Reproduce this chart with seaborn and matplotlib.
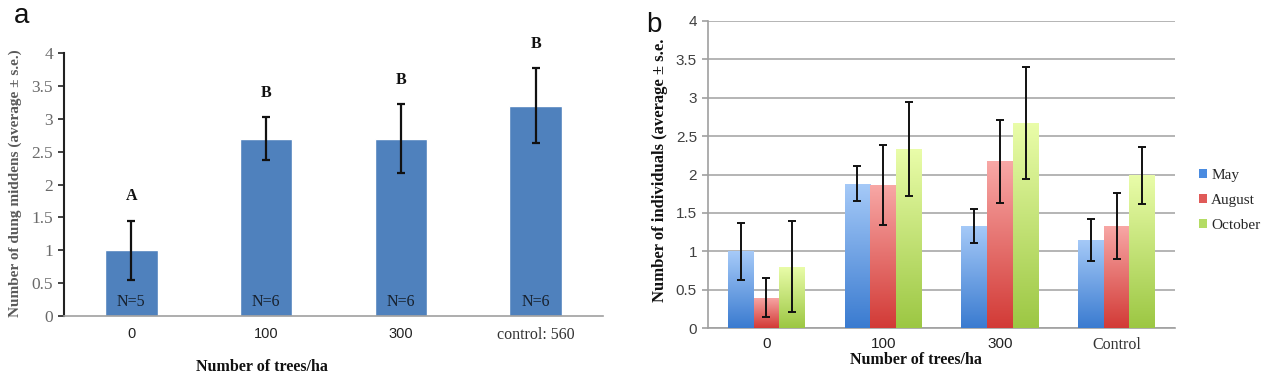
import numpy as np
import pandas as pd
import matplotlib
matplotlib.use("Agg")
import matplotlib.pyplot as plt
import seaborn as sns
from matplotlib.colors import LinearSegmentedColormap
from matplotlib.patches import Patch

# ---------------- data ----------------
a_categories = ["0", "100", "300", "control: 560"]
a_means = [1.0, 2.7, 2.7, 3.2]
a_se = [0.45, 0.33, 0.53, 0.57]
a_letters = ["A", "B", "B", "B"]
a_n_labels = ["N=5", "N=6", "N=6", "N=6"]

b_categories = ["0", "100", "300", "Control"]
b_months = ["May", "August", "October"]
b_may = [1.0, 1.88, 1.33, 1.15]
b_may_se = [0.37, 0.23, 0.22, 0.27]
b_august = [0.40, 1.86, 2.17, 1.33]
b_august_se = [0.25, 0.52, 0.54, 0.43]
b_october = [0.80, 2.33, 2.67, 1.99]
b_october_se = [0.59, 0.61, 0.73, 0.37]

# ---------------- style ----------------
sns.set_theme(style="white")
plt.rcParams["font.family"] = ["DejaVu Sans"]
SERIF = ["Liberation Serif", "DejaVu Serif"]
SANS = ["Liberation Sans", "DejaVu Sans"]

W, H = 1267, 378
fig = plt.figure(figsize=(W / 100, H / 100), dpi=100)

def px_axes(l, r, t, b):
    return fig.add_axes([l / W, 1 - b / H, (r - l) / W, (b - t) / H])

# ---------------- panel a ----------------
ax1 = px_axes(64, 603, 53.3, 316)
df_a = pd.DataFrame({"trees": a_categories, "mean": a_means})
sns.barplot(data=df_a, x="trees", y="mean", color="#4f81bd", saturation=1,
            width=0.39, errorbar=None, ax=ax1)
ax1.errorbar(x=np.arange(len(a_means)), y=a_means, yerr=a_se, fmt="none",
             ecolor="#111111", elinewidth=1.6, capsize=3.2, capthick=1.6, zorder=5)
for i, (m, e, L, n) in enumerate(zip(a_means, a_se, a_letters, a_n_labels)):
    ax1.text(i, m + e + 0.37, L, ha="center", va="center", fontsize=11.5,
             fontweight="bold", family=SERIF, color="#111111", clip_on=False)
    ax1.text(i, 0.21, n, ha="center", va="center", fontsize=11.5,
             family=SERIF, color="#17202c")
ax1.set_xlim(-0.5, 3.5)
ax1.set_ylim(0, 4)
ax1.set_yticks(np.arange(0, 4.01, 0.5))
ax1.set_yticklabels(["0", "0.5", "1", "1.5", "2", "2.5", "3", "3.5", "4"],
                    family=SERIF, fontsize=12.5, color="#6a6a6a")
ax1.set_xticks(range(4))
ax1.set_xticklabels(a_categories, fontsize=10.5, color="#222222")
for i, lab in enumerate(ax1.get_xticklabels()):
    lab.set_family(SANS if i < 3 else SERIF)
    if i == 3:
        lab.set_fontsize(11.5)
        lab.set_color("#333333")
ax1.set_xticks([-0.5, 0.5, 1.5, 2.5], minor=True)
ax1.tick_params(axis="x", which="major", length=0, pad=8)
ax1.tick_params(axis="x", which="minor", length=4, color="#a0a0a0", width=1, direction="out")
ax1.tick_params(axis="y", length=4, color="#222222", width=1.2, direction="out", left=True, pad=4)
ax1.set_xlabel("")
ax1.set_ylabel("")
for s in ["top", "right"]:
    ax1.spines[s].set_visible(False)
ax1.spines["left"].set_color("#222222")
ax1.spines["left"].set_linewidth(1.5)
ax1.spines["bottom"].set_color("#a0a0a0")
ax1.spines["bottom"].set_linewidth(1.2)
ax1.grid(False)

fig.text(15 / W, 1 - 183 / H, "Number of dung middens (average ± s.e.)", rotation=90,
         ha="center", va="center", fontsize=11, fontweight="bold", family=SERIF, color="#5a5a5a")
fig.text(262 / W, 1 - 367 / H, "Number of trees/ha", ha="center", va="center",
         fontsize=11.5, fontweight="bold", family=SERIF, color="#111111")
fig.text(22 / W, 1 - 16 / H, "a", ha="center", va="center", fontsize=20, family=SANS, color="#111111")

# ---------------- panel b ----------------
ax2 = px_axes(708, 1175, 20.7, 328.3)
df_b = pd.DataFrame({
    "trees": b_categories * 3,
    "month": [m for m in b_months for _ in b_categories],
    "value": b_may + b_august + b_october,
})
b_errs = [b_may_se, b_august_se, b_october_se]
grad_colors = {
    "May": ("#3a7bd0", "#a6caf8"),
    "August": ("#d23a36", "#f8a8a6"),
    "October": ("#9cc743", "#eafdaa"),
}
legend_colors = {"May": "#4a8be0", "August": "#e05a58", "October": "#b4dc64"}
sns.barplot(data=df_b, x="trees", y="value", hue="month", hue_order=b_months,
            palette=legend_colors, saturation=1, width=0.66, errorbar=None, ax=ax2,
            legend=False, zorder=3)

grad = np.linspace(0, 1, 256).reshape(-1, 1)
for cont, month, errs in zip(ax2.containers, b_months, b_errs):
    cmap = LinearSegmentedColormap.from_list(month, list(grad_colors[month]))
    xs = []
    ys = []
    for bar in cont:
        x0, w, h = bar.get_x(), bar.get_width(), bar.get_height()
        im = ax2.imshow(grad, extent=[x0, x0 + w, 0, h], origin="lower", cmap=cmap,
                        aspect="auto", zorder=3, interpolation="bilinear")
        im.set_clip_path(bar)
        bar.set_facecolor("none")
        bar.set_edgecolor("none")
        xs.append(x0 + w / 2)
        ys.append(h)
    ax2.errorbar(x=xs, y=ys, yerr=errs, fmt="none", ecolor="#111111",
                 elinewidth=1.4, capsize=3.2, capthick=1.4, zorder=6)

ax2.set_xlim(-0.5, 3.5)
ax2.set_ylim(0, 4)
ax2.set_yticks(np.arange(0, 4.01, 0.5))
ax2.set_yticklabels(["0", "0.5", "1", "1.5", "2", "2.5", "3", "3.5", "4"],
                    family=SANS, fontsize=11, color="#404040")
ax2.yaxis.grid(True, color="#a8a8a8", linewidth=1.2, zorder=0)
ax2.set_axisbelow(True)
ax2.set_xticks(range(4))
ax2.set_xticklabels(b_categories, fontsize=11, color="#222222")
for i, lab in enumerate(ax2.get_xticklabels()):
    lab.set_family(SANS if i < 3 else SERIF)
    if i == 3:
        lab.set_fontsize(11.5)
        lab.set_color("#333333")
ax2.set_xticks([-0.5, 0.5, 1.5, 2.5, 3.5], minor=True)
ax2.tick_params(axis="x", which="major", length=0, pad=6)
ax2.tick_params(axis="x", which="minor", length=4, color="#a0a0a0", width=1, direction="out")
ax2.tick_params(axis="y", length=4, color="#a0a0a0", width=1.2, direction="out", left=True, pad=4)
ax2.set_xlabel("")
ax2.set_ylabel("")
for s in ["top", "right"]:
    ax2.spines[s].set_visible(False)
for s in ["left", "bottom"]:
    ax2.spines[s].set_color("#a0a0a0")
    ax2.spines[s].set_linewidth(1.2)

handles = [Patch(facecolor=legend_colors[m], edgecolor="none") for m in b_months]
leg = ax2.legend(handles, b_months, loc="center left", bbox_to_anchor=(1196 / W, 1 - 200.5 / H),
                 bbox_transform=fig.transFigure, frameon=False, handlelength=0.5,
                 handleheight=0.5, handletextpad=0.3, labelspacing=0.8,
                 borderpad=0.2, borderaxespad=0,
                 prop={"family": SERIF, "size": 11})

fig.text(660 / W, 1 - 170 / H, "Number of individuals (average ± s.e.", rotation=90,
         ha="center", va="center", fontsize=12, fontweight="bold", family=SERIF, color="#111111")
fig.text(916 / W, 1 - 360 / H, "Number of trees/ha", ha="center", va="center",
         fontsize=11.5, fontweight="bold", family=SERIF, color="#111111")
fig.text(654 / W, 1 - 25 / H, "b", ha="center", va="center", fontsize=20, family=SANS, color="#111111")

fig.savefig("out.png", dpi=100, facecolor="white")
